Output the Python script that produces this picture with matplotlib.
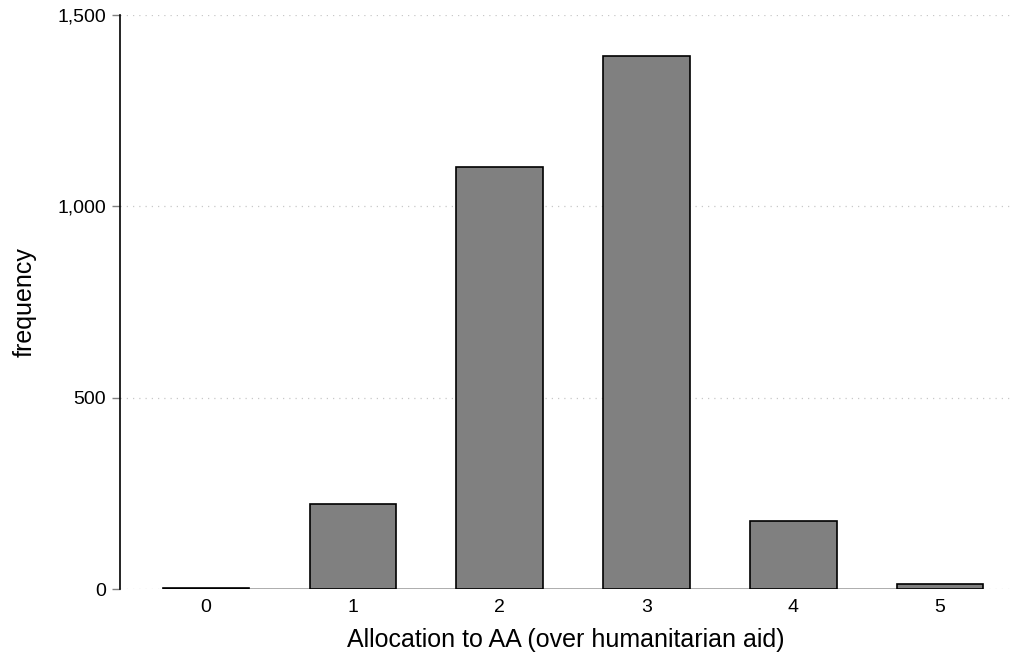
import numpy as np
import matplotlib.pyplot as plt

plt.rcParams['font.family'] = ['Liberation Sans', 'DejaVu Sans']

# allocation categories and their counts
alloc = [0, 1, 2, 3, 4, 5]
freq = [2, 222, 1103, 1393, 178, 13]
yticks = [0, 500, 1000, 1500]

fig = plt.figure(figsize=(10.15, 6.54), dpi=100)
ax = fig.add_axes([120/1015, 1 - 589/654, (1012 - 120)/1015, (589 - 15)/654])

# dotted grid
for t in yticks:
    ax.axhline(t, color='#c8c8c8', lw=0.9, ls=(0, (1, 4)), zorder=0)

ax.bar(alloc, freq, width=0.59, color='#808080', edgecolor='black', lw=1.2, zorder=2)

# grey base line only across the tick range
ax.plot([alloc[0], alloc[-1]], [0, 0], color='#a0a0a0', lw=1.2, zorder=1)

ax.set_xlim(-0.587, 5.49)
ax.set_ylim(0, 1500)
ax.set_yticks(yticks)
ax.set_yticklabels(['{:,}'.format(t) for t in yticks])
ax.set_xticks(alloc)

for s in ['top', 'right', 'bottom']:
    ax.spines[s].set_visible(False)
ax.spines['left'].set_color('black')
ax.spines['left'].set_linewidth(1.2)

ax.tick_params(axis='y', length=6, width=1, color='#808080', labelsize=14, pad=4)
ax.tick_params(axis='x', length=0, labelsize=14, pad=7.5)

ax.set_xlabel('Allocation to AA (over humanitarian aid)', fontsize=18, labelpad=8)
ax.set_ylabel('frequency', fontsize=18, labelpad=15)

fig.savefig('out.png', dpi=100)
